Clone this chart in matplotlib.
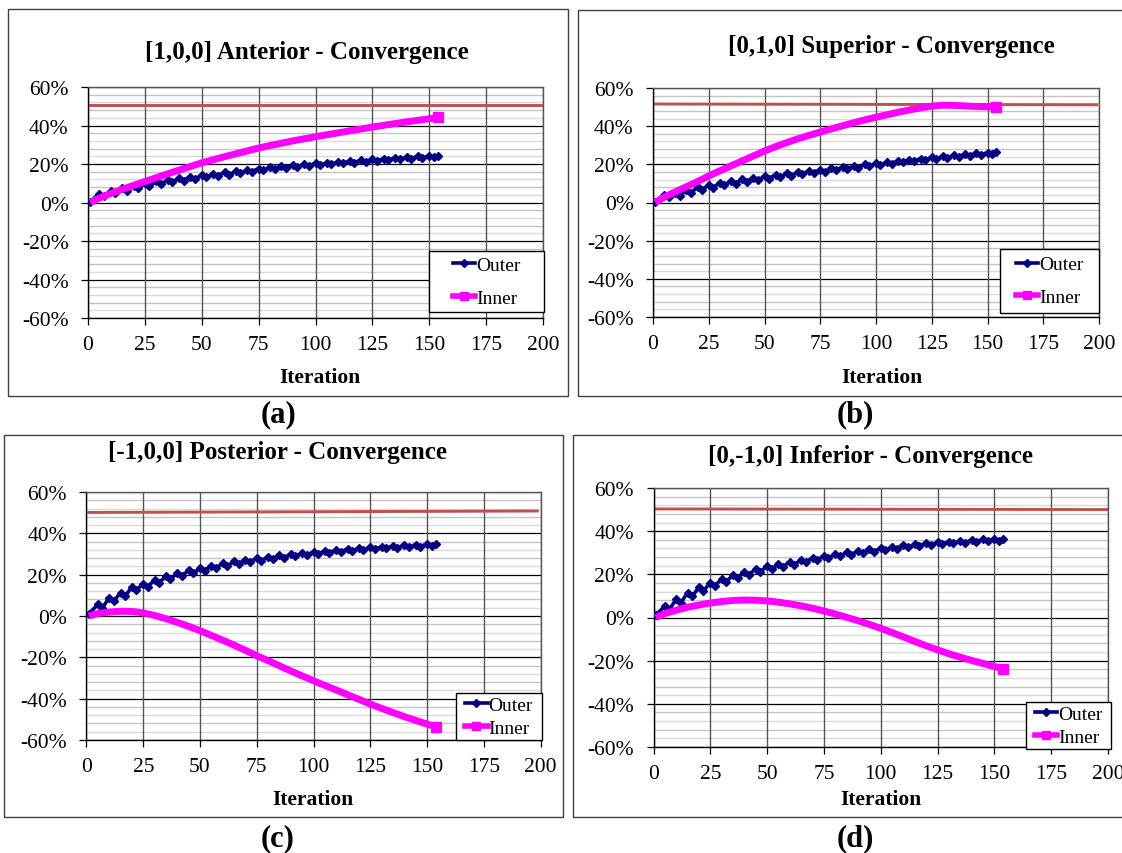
import matplotlib
matplotlib.use("Agg")
import matplotlib.pyplot as plt
from matplotlib.lines import Line2D
from matplotlib.patches import Rectangle

plt.rcParams['font.family'] = ['Liberation Serif', 'DejaVu Serif']

W, H = 1122, 854

# ---- axes scales ----
x_ticks = [0, 25, 50, 75, 100, 125, 150, 175, 200]
y_ticks = [-60, -40, -20, 0, 20, 40, 60]
y_tick_labels = ['-60%', '-40%', '-20%', '0%', '20%', '40%', '60%']
minor_y = [v for v in range(-56, 60, 4) if v % 20 != 0]

titles = ['[1,0,0] Anterior - Convergence',
          '[0,1,0] Superior - Convergence',
          '[-1,0,0] Posterior - Convergence',
          '[0,-1,0] Inferior - Convergence']
panel_tags = ['(a)', '(b)', '(c)', '(d)']
series_names = ['Outer', 'Inner']

# ---- Inner series (value in % at each iteration) ----
inner_iter = [1, 5, 10, 15, 20, 25, 30, 35, 40, 45, 50, 55, 60, 65, 70, 75,
              80, 85, 90, 95, 100, 105, 110, 115, 120, 125, 130, 135, 140,
              145, 150, 154]
inner_a = [0, 2.3, 4.7, 6.8, 8.9, 10.9, 12.9, 14.9, 16.8, 18.7, 20.6, 22.2,
           23.8, 25.3, 26.8, 28.3, 29.6, 30.8, 32.0, 33.1, 34.2, 35.2, 36.2,
           37.2, 38.2, 39.2, 40.1, 41.0, 41.9, 42.7, 43.5, 44.2]
inner_b = [0, 2.8, 5.6, 8.3, 11.0, 13.9, 16.6, 19.2, 21.8, 24.4, 27.0, 29.3,
           31.4, 33.4, 35.2, 36.9, 38.6, 40.2, 41.8, 43.3, 44.7, 46.0, 47.3,
           48.5, 49.6, 50.5, 51.0, 50.9, 50.6, 50.3, 50.1, 50.0]
inner_c = [0, 1.2, 1.9, 2.3, 2.2, 1.5, 0.3, -1.3, -3.1, -5.0, -7.1, -9.4,
           -11.7, -14.1, -16.6, -19.2, -21.6, -24.1, -26.6, -29.0, -31.3,
           -33.6, -35.8, -38.1, -40.3, -42.6, -44.7, -46.7, -48.7, -50.5,
           -52.3, -53.6]
inner_d = [0, 1.8, 3.4, 4.8, 5.8, 6.7, 7.4, 7.9, 8.1, 8.0, 7.7, 7.1, 6.3,
           5.4, 4.3, 3.0, 1.6, 0.1, -1.5, -3.2, -5.0, -7.0, -9.0, -11.1,
           -13.1, -15.0, -16.8, -18.4, -19.9, -21.3, -22.7, -23.8]

# ---- Outer series: saw-tooth, peaks every 5 iterations, dips 2 later ----
peak_iter = list(range(5, 151, 5))
dip_iter = list(range(7, 153, 5))
outer_first_iter, outer_last_iter = 1, 154

outer_a_first, outer_a_last = 0.5, 24.1
outer_a_peaks = [4.5, 6.2, 7.5, 8.8, 10.0, 11.0, 11.7, 12.6, 13.4, 14.3,
                 15.0, 15.7, 16.2, 16.9, 17.6, 18.2, 18.8, 19.4, 19.9, 20.4,
                 20.7, 21.1, 21.5, 22.0, 22.4, 22.8, 23.2, 23.6, 24.0, 24.3]
outer_a_dips = [3.2, 4.7, 6.0, 7.3, 8.4, 9.4, 10.5, 11.4, 12.2, 13.1,
                13.8, 14.5, 15.3, 16.0, 16.7, 17.3, 17.9, 18.4, 18.9, 19.4,
                19.9, 20.3, 20.7, 21.2, 21.6, 22.0, 22.4, 22.8, 23.1, 23.5]

outer_b_first, outer_b_last = 0.5, 26.3
outer_b_peaks = [4.0, 4.8, 6.6, 8.1, 9.4, 10.4, 11.3, 12.1, 12.9, 13.8,
                 14.6, 15.3, 16.0, 16.6, 17.2, 17.9, 18.6, 19.3, 20.0, 20.6,
                 21.2, 21.8, 22.4, 23.0, 23.6, 24.2, 24.7, 25.2, 25.7, 26.2]
outer_b_dips = [2.8, 3.4, 5.0, 6.5, 7.8, 9.0, 9.9, 10.8, 11.6, 12.5,
                13.3, 14.0, 14.9, 15.5, 16.1, 16.8, 17.5, 18.2, 18.9, 19.6,
                20.4, 21.0, 21.6, 22.2, 22.8, 23.4, 23.9, 24.4, 24.9, 25.4]

outer_c_first, outer_c_last = 1.0, 34.8
outer_c_peaks = [5.6, 8.8, 11.2, 14.1, 15.7, 17.6, 19.2, 20.8, 22.1, 23.2,
                 24.4, 25.5, 26.4, 27.2, 27.9, 28.6, 29.3, 29.9, 30.5, 31.0,
                 31.5, 32.0, 32.4, 32.8, 33.2, 33.6, 33.9, 34.2, 34.5, 34.8]
outer_c_dips = [4.0, 7.2, 9.6, 12.5, 14.1, 16.2, 17.8, 19.4, 20.7, 21.8,
                23.0, 24.1, 25.3, 26.1, 26.8, 27.5, 28.2, 28.8, 29.4, 29.9,
                30.6, 31.1, 31.5, 31.9, 32.3, 32.7, 33.0, 33.3, 33.6, 33.9]

outer_d_first, outer_d_last = 1.0, 36.4
outer_d_peaks = [5.4, 8.5, 11.5, 14.0, 16.2, 18.0, 19.7, 21.2, 22.6, 23.8,
                 24.9, 25.9, 26.8, 27.6, 28.6, 29.5, 30.2, 30.9, 31.6, 32.2,
                 32.8, 33.4, 33.9, 34.4, 34.8, 35.2, 35.6, 35.9, 36.2, 36.5]
outer_d_dips = [3.7, 6.8, 9.8, 12.3, 14.5, 16.6, 18.3, 19.8, 21.2, 22.4,
                23.5, 24.5, 25.7, 26.5, 27.5, 28.4, 29.1, 29.8, 30.5, 31.1,
                31.9, 32.5, 33.0, 33.5, 33.9, 34.3, 34.7, 35.0, 35.3, 35.6]

# ---- 50% reference line (start/end iteration and value) ----
ref_iter = [[1, 200], [1, 199], [1, 198.6], [1, 199.5]]
ref_val = [[50.5, 50.5], [51.6, 51.2], [50.1, 50.8], [50.3, 50.0]]

# ---- layout (pixels: left, right, top, bottom) ----
axes_px = [(88, 543, 88, 319), (653, 1099, 89, 318),
           (86.5, 540.5, 493, 741), (653.5, 1108, 489, 748)]
frames_px = [(8, 568, 10, 397), (578, 1130, 11, 397),
             (4, 563, 436, 818), (573, 1130, 436, 818)]
legend_px = [(429, 544, 252, 313), (1000, 1099, 250, 314),
             (456, 542, 694, 741), (1026, 1111, 703, 750)]
legend_spacing = [0.76, 0.78, 0.3, 0.26]
title_px = [(307, 52), (891, 47), (277, 453), (870, 457)]
tag_px = [(278, 415), (855, 415), (278, 839), (855, 839)]
xlabel_px = [(320, 378), (882, 378), (313, 800), (881, 800)]

NAVY = '#000080'
MAGENTA = '#FF00FF'
REDLINE = '#C0504D'

fig = plt.figure(figsize=(W / 100, H / 100), dpi=100)


def zigzag(first, peaks, dips, last):
    xs, ys = [outer_first_iter], [first]
    for px_, pv, dx_, dv in zip(peak_iter, peaks, dip_iter, dips):
        xs += [px_, dx_]
        ys += [pv, dv]
    xs.append(outer_last_iter)
    ys.append(last)
    return xs, ys


outer_sets = [
    zigzag(outer_a_first, outer_a_peaks, outer_a_dips, outer_a_last),
    zigzag(outer_b_first, outer_b_peaks, outer_b_dips, outer_b_last),
    zigzag(outer_c_first, outer_c_peaks, outer_c_dips, outer_c_last),
    zigzag(outer_d_first, outer_d_peaks, outer_d_dips, outer_d_last),
]
inner_sets = [inner_a, inner_b, inner_c, inner_d]

for i in range(4):
    # surrounding frame of each panel
    fx0, fx1, fy0, fy1 = frames_px[i]
    fig.patches.append(Rectangle((fx0 / W, 1 - fy1 / H), (fx1 - fx0) / W,
                                 (fy1 - fy0) / H, transform=fig.transFigure,
                                 fill=False, edgecolor='#404040', lw=1.0))

    l, r, t, b = axes_px[i]
    ax = fig.add_axes([l / W, 1 - b / H, (r - l) / W, (b - t) / H])
    ax.set_xlim(0, 200)
    ax.set_ylim(-60, 60)

    # gridlines
    for k, v in enumerate(minor_y):
        ax.axhline(v, color='#c4c4c4' if k % 2 else '#dadada', lw=1.0,
                   zorder=0.5)
    for v in y_ticks:
        ax.axhline(v, color='black', lw=0.9, zorder=0.6)
    for v in x_ticks:
        ax.axvline(v, color='#555555', lw=1.0, zorder=0.6)

    ax.set_xticks(x_ticks)
    ax.set_yticks(y_ticks)
    ax.set_yticklabels(y_tick_labels)
    ax.tick_params(axis='both', direction='out', length=5, width=0.9,
                   labelsize=15.5, color='black')
    ax.tick_params(axis='y', pad=9)
    ax.tick_params(axis='x', pad=7)
    for s in ['left', 'bottom']:
        ax.spines[s].set_color('black')
        ax.spines[s].set_linewidth(1.0)
    for s in ['top', 'right']:
        ax.spines[s].set_color('#555555')
        ax.spines[s].set_linewidth(1.0)

    # data
    ax.plot(ref_iter[i], ref_val[i], color=REDLINE, lw=2.1, zorder=2)
    ox, oy = outer_sets[i]
    ax.plot(ox, oy, color=NAVY, lw=2.6, marker='D', ms=3.6, mec=NAVY,
            zorder=3)
    ax.plot(inner_iter, inner_sets[i], color=MAGENTA, lw=5.0,
            solid_capstyle='butt', zorder=4)
    ax.plot([inner_iter[-1]], [inner_sets[i][-1]], marker='s', ms=6.5,
            color=MAGENTA, zorder=4)

    # legend: white box with black outline, entries centred inside
    lx0, lx1, ly0, ly1 = legend_px[i]
    fig.patches.append(Rectangle((lx0 / W, 1 - ly1 / H), (lx1 - lx0) / W,
                                 (ly1 - ly0) / H, transform=fig.transFigure,
                                 facecolor='white', edgecolor='black',
                                 lw=1.0, zorder=5))
    handles = [Line2D([], [], color=NAVY, lw=2.6, marker='D', ms=3.8),
               Line2D([], [], color=MAGENTA, lw=4.0, marker='s', ms=5.5)]
    leg = fig.legend(handles, series_names, loc='center',
                     bbox_to_anchor=((lx0 + lx1) / 2 / W,
                                     1 - (ly0 + ly1) / 2 / H),
                     bbox_transform=fig.transFigure, fontsize=14,
                     frameon=False, handlelength=1.15, handletextpad=0.05,
                     labelspacing=legend_spacing[i], borderpad=0,
                     borderaxespad=0)
    leg.set_zorder(6)

    # texts
    tx, ty = title_px[i]
    fig.text(tx / W, 1 - ty / H, titles[i], ha='center', va='center',
             fontsize=18, fontweight='bold')
    xx, xy = xlabel_px[i]
    fig.text(xx / W, 1 - xy / H, 'Iteration', ha='center', va='center',
             fontsize=15.5, fontweight='bold')
    gx, gy = tag_px[i]
    fig.text(gx / W, 1 - gy / H, panel_tags[i], ha='center', va='center',
             fontsize=22, fontweight='bold')

fig.savefig('out.png', dpi=100)
